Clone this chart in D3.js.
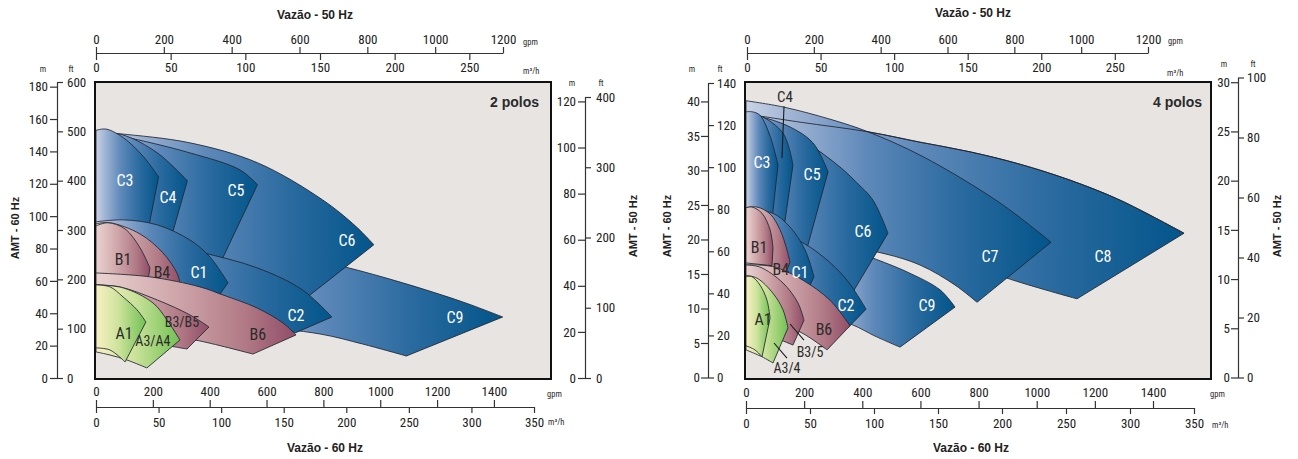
<!DOCTYPE html>
<html>
<head>
<meta charset="utf-8">
<script src="https://cdn.jsdelivr.net/npm/d3@7"></script>
<style>
  body { margin: 0; background: #fff; }
  svg { display: block; }
</style>
</head>
<body>
<svg id="chart" width="1298" height="459"></svg>
<script>
// ---- unit conversions ----
const GPM_PER_M3H = 4.40287;
const FT_PER_M = 3.28084;

// ---- axis tick values ----
const flowTicksM3h60 = [0, 50, 100, 150, 200, 250, 300, 350];
const flowTicksGpm60 = [0, 200, 400, 600, 800, 1000, 1200, 1400];
const flowTicksM3h50 = [0, 50, 100, 150, 200, 250];
const flowTicksGpm50 = [0, 200, 400, 600, 800, 1000, 1200];
const headTicksM60_2p = [0, 20, 40, 60, 80, 100, 120, 140, 160, 180];
const headTicksFt60_2p = [0, 100, 200, 300, 400, 500, 600];
const headTicksM50_2p = [0, 20, 40, 60, 80, 100, 120];
const headTicksFt50_2p = [0, 100, 200, 300, 400];
const headTicksM60_4p = [0, 5, 10, 15, 20, 25, 30, 35, 40];
const headTicksFt60_4p = [0, 20, 40, 60, 80, 100, 120, 140];
const headTicksM50_4p = [0, 5, 10, 15, 20, 25, 30];
const headTicksFt50_4p = [0, 20, 40, 60, 80, 100];

// ---- 2 polos: pump ranges, [flow m3/h @60Hz, head m @60Hz] (drawn in this order) ----
const names2p  = ["C9", "C6", "C5", "C4", "C3", "C2", "C1", "B4", "B1", "B6", "B3/B5", "A3/A4", "A1"];
const family2p = ["C",  "C",  "C",  "C",  "C",  "C",  "C",  "B",  "B",  "B",  "B",     "A",     "A"];
const top2p = [
  [[83, 79.2], [163, 74.8], [199, 68.6], [245, 58.8], [293, 47.0], [325, 37.7]],
  [[0, 152.1], [19, 150.9], [75, 145.3], [129, 133.0], [181, 110.1], [208, 93.4], [222, 82.3]],
  [[0, 151.5], [22, 149.0], [75, 139.1], [115, 128.6], [129, 119.4]],
  [[0, 151.5], [21, 150.3], [49, 139.1], [73, 121.8]],
  [[0, 153.0], [8, 153.8], [22, 148.4], [38, 136.7], [50, 124.3]],
  [[0, 88.4], [43, 85.3], [83, 77.9], [129, 68.0], [165, 54.4], [188.5, 37.7]],
  [[0, 96.5], [22, 97.7], [49, 94.6], [75, 85.3], [91, 74.8], [105.5, 58.8]],
  [[0, 95.3], [11.2, 95.9], [35.2, 89.0], [53.5, 77.3], [64.7, 64.9], [67.1, 58.8]],
  [[0, 94.0], [9.6, 95.9], [23.2, 92.1], [35.2, 80.4], [43.1, 68.0]],
  [[0, 64.9], [43, 62.5], [83, 56.3], [101.5, 51.3], [128.6, 43.3], [149.4, 34.0], [159.8, 26.6]],
  [[0, 57.5], [19, 56.3], [49, 48.2], [75, 39.0], [90.3, 31.5]],
  [[0, 57.5], [21.6, 55.7], [45.5, 46.4], [56.7, 35.9], [67.1, 23.5]],
  [[0, 57.5], [11.2, 56.3], [21.6, 50.1], [32.8, 42.1], [39.9, 34.6]]
];
const bottom2p = [
  [[248, 13.6], [213, 21.0], [179, 27.2], [123, 32.2], [83, 34.6]],
  [[163, 46.4], [83, 63.7], [0, 73.0]],
  [[97.5, 68.0], [43, 85.3], [0, 90.3]],
  [[60, 86.6], [0, 95]],
  [[42, 92.8], [0, 95]],
  [[159, 27.8], [123, 39.0], [43, 48.2], [0, 51.3]],
  [[97.5, 50.1], [43, 57.5], [0, 60.6]],
  [[63.9, 55.7], [0, 62]],
  [[41.5, 60.0], [0, 62]],
  [[125.4, 14.8], [83, 22.9], [43, 28.4], [0, 32.8]],
  [[72.7, 17.9], [43, 21.6], [0, 24.7]],
  [[40.7, 6.2], [24.8, 11.1], [11.2, 14.2], [0, 16.1]],
  [[23.2, 9.9], [11.2, 17.3], [0, 18.6]]
];
const labelPos2p = [
  [286.8, 37.7], [200.5, 85.3], [111.8, 116.3], [57.5, 111.9], [23.2, 122.4], [159.8, 39.0],
  [82.3, 65.6], [52.7, 65.6], [21.6, 73.6], [129.4, 27.2], [68.7, 34.6], [45.5, 22.9], [22.4, 27.8]
];

// ---- 4 polos: pump ranges, [flow m3/h @60Hz, head m @60Hz] ----
const names4p  = ["C8", "C7", "C9", "C6", "C5", "C4", "C3", "C2", "C1", "B4", "B1", "B6", "B3/5", "A3/4", "A1"];
const family4p = ["C",  "C",  "C",  "C",  "C",  "C",  "C",  "C",  "C",  "B",  "B",  "B",  "B",    "A",    "A"];
const top4p = [
  [[0, 38.2], [42.2, 37.0], [95.3, 35.6], [135.9, 34.1], [175, 32.7], [214.1, 30.9], [253.1, 28.6], [292.2, 25.7], [342.2, 20.9]],
  [[0, 40.1], [29, 39.2], [68, 37.3], [95.3, 35.6], [138.3, 32.0], [198.4, 25.3], [238.3, 19.6]],
  [[57.8, 19.2], [89.1, 18.0], [99.2, 17.3], [125.8, 15.3], [151.6, 12.7], [163.3, 10.2]],
  [[0, 38.3], [10.9, 37.8], [47.7, 34.0], [73.4, 30.5], [86.7, 28.2], [99.2, 25.7], [110.9, 20.9]],
  [[0, 38.0], [10.9, 37.8], [34.4, 36.3], [52.3, 34.0], [64.1, 29.8]],
  [[0, 38.0], [10.9, 37.9], [28.9, 35.4], [36.7, 30.8]],
  [[0, 38.5], [5, 38.5], [10.9, 38.0], [18.8, 35.0], [25.0, 30.8]],
  [[0, 21.5], [39.8, 19.9], [60.2, 17.5], [78.9, 14.1], [93.8, 9.9]],
  [[0, 24.6], [5.5, 24.3], [21.1, 23.8], [34.4, 21.8], [46.1, 18.5], [53.1, 14.6]],
  [[0, 24.6], [8.6, 24.7], [18.8, 23.7], [26.6, 21.4], [32.0, 18.5], [34.4, 16.7]],
  [[0, 24.6], [4.7, 24.7], [12.5, 23.8], [18.8, 21.4], [21.1, 18.8]],
  [[0, 16.3], [10.9, 16.3], [24.2, 15.9], [44.5, 14.1], [65.6, 11.2], [81.3, 7.5]],
  [[0, 16.3], [10.9, 16.0], [28.9, 13.7], [40.6, 10.8], [45.3, 8.3]],
  [[0, 14.8], [8.6, 14.4], [21.1, 12.2], [28.9, 9.8], [32.8, 7.2]],
  [[0, 14.6], [4.7, 14.6], [10.9, 13.4], [16.4, 11.2], [18.8, 8.6]]
];
const bottom4p = [
  [[258.6, 11.4], [203.9, 14.4], [159.4, 17.6], [81.3, 19.9], [0, 20.6]],
  [[180.5, 10.9], [163.3, 13.4], [135.9, 16.3], [102.3, 18.2], [42, 20.0], [0, 20.6]],
  [[120.3, 4.4], [100.8, 6.0], [83.6, 7.6], [57.8, 9.1]],
  [[83.6, 12.4], [42.2, 16.7], [0, 18.5]],
  [[46.9, 18.2], [0, 20.0]],
  [[29.7, 21.7], [0, 22.5]],
  [[20.3, 22.8], [0, 23.5]],
  [[79.7, 7.2], [57.8, 9.1], [0, 11.2]],
  [[48.4, 12.7], [26.6, 14.4], [0, 15.3]],
  [[31.3, 15.3], [0, 16.0]],
  [[20.3, 16.2], [0, 16.6]],
  [[63.3, 4.0], [42.2, 6.6], [18.8, 8.0], [0, 8.6]],
  [[36.7, 4.7], [22.7, 5.7], [0, 6.6]],
  [[21.1, 2.1], [12.5, 3.0], [0, 4.0]],
  [[12.5, 3.0], [7.0, 4.0], [0, 4.6]]
];
// null = labelled with a callout instead
const labelPos4p = [
  [278.9, 17.5], [190.6, 17.5], [141.4, 10.4], [91.4, 21.2], [51.6, 29.5], null, [12.5, 31.2],
  [78.1, 10.4], [42.2, 15.3], [27.3, 15.7], [10.2, 18.9], [60.9, 7.0], null, null, [13.3, 8.5]
];
const calloutNames4p = ["C4", "B3/5", "A3/4"];
const calloutText4p = [[30.5, 40.7], [50.0, 3.7], [32.0, 1.4]];
const calloutLine4p = [
  [[29.7, 39.3], [28.1, 31.8]],
  [[34.4, 7.75], [45.3, 5.4]],
  [[21.9, 5.0], [32.0, 2.8]]
];

// ---- fonts & colours ----
const NARROW = '"Liberation Sans Narrow", "Arial Narrow", "Roboto Condensed", "Liberation Sans", sans-serif';
const BOLD = '"Liberation Sans", Arial, Helvetica, sans-serif';
const INK = "#222";
const PLOT_BG = "#e8e4e1";
const gradStops = {
  C: [[0, "#c9d3e6"], [0.15, "#9fb3d3"], [0.4, "#5d88b9"], [0.7, "#2a6a9f"], [1, "#02558a"]],
  B: [[0, "#ead3d0"], [0.4, "#cfa6aa"], [0.75, "#b07985"], [1, "#914d68"]],
  A: [[0, "#f9f0c3"], [0.45, "#cde39c"], [1, "#72c154"]]
};

const svg = d3.select("#chart");
const defs = svg.append("defs");
Object.entries(gradStops).forEach(([k, stops]) => {
  const lg = defs.append("linearGradient").attr("id", "grad" + k)
    .attr("x1", 0).attr("x2", 1).attr("y1", 0).attr("y2", 0);
  stops.forEach(([o, c]) => lg.append("stop").attr("offset", o).attr("stop-color", c));
});

const intFmt = d3.format("d");

function styleAxis(g) {
  g.attr("font-family", NARROW).attr("font-size", 13);
  g.selectAll("text").attr("fill", INK);
  g.selectAll("line").attr("stroke", "#333").attr("stroke-width", 1.2);
  g.selectAll(".domain").attr("stroke", "#333").attr("stroke-width", 1.2);
}

function txt(g, x, y, s, opts) {
  const t = g.append("text").attr("x", x).attr("y", y).text(s)
    .attr("font-family", opts.family || NARROW)
    .attr("font-size", opts.size || 13)
    .attr("fill", opts.fill || INK)
    .attr("text-anchor", opts.anchor || "start");
  if (opts.weight) t.attr("font-weight", opts.weight);
  if (opts.rotate) t.attr("transform", `rotate(-90,${x},${y})`);
  return t;
}

function drawPanel(p) {
  const g = svg.append("g");

  // scales: 60 Hz flow / head drive the marks; 50 Hz scales only carry the secondary axes
  const x = d3.scaleLinear().domain([0, 350]).range(p.xRange);
  const xGpm = x.copy().domain([0, 350 * GPM_PER_M3H]);
  const y = d3.scaleLinear().domain([0, p.ftTop60 / FT_PER_M]).range(p.yRange);
  const yFt = y.copy().domain([0, p.ftTop60]);
  const x50 = d3.scaleLinear().domain([0, 1200 / GPM_PER_M3H]).range(p.topRange);
  const x50Gpm = x50.copy().domain([0, 1200]);
  const y50 = d3.scaleLinear().domain([0, p.ftTop50 / FT_PER_M]).range(p.y50Range);
  const y50Ft = y50.copy().domain([0, p.ftTop50]);

  const [fx0, fy0, fx1, fy1] = p.frame;
  g.append("rect").attr("x", fx0).attr("y", fy0).attr("width", fx1 - fx0).attr("height", fy1 - fy0)
    .attr("fill", PLOT_BG);

  // pump range outlines: top curve down to the tip, chevron, then lower curve back to the left
  const edge = d3.line().x(d => x(d[0])).y(d => y(d[1])).curve(d3.curveCatmullRom.alpha(0.5));
  const shapes = g.append("g");
  p.names.forEach((name, i) => {
    const d = edge(p.top[i]) + "L" + edge(p.bottom[i]).slice(1) + "Z";
    shapes.append("path").attr("d", d)
      .attr("fill", `url(#grad${p.family[i]})`)
      .attr("stroke", "#1f2530").attr("stroke-width", 0.85).attr("stroke-linejoin", "round");
    if (p.restroke && p.restroke.after === name) {
      const j = p.names.indexOf(p.restroke.of);
      shapes.append("path").attr("d", edge(p.top[j]))
        .attr("fill", "none").attr("stroke", "#1f2530").attr("stroke-width", 0.85);
    }
  });

  // frame
  g.append("rect").attr("x", fx0).attr("y", fy0).attr("width", fx1 - fx0).attr("height", fy1 - fy0)
    .attr("fill", "none").attr("stroke", "#111").attr("stroke-width", 2);

  // range labels
  p.names.forEach((name, i) => {
    const pos = p.labelPos[i];
    if (!pos) return;
    txt(g, x(pos[0]), y(pos[1]), p.labelText[i], {
      size: name.includes("/") ? 14 : 16,
      fill: p.family[i] === "C" ? "#fff" : "#2b2b2b", anchor: "middle"
    }).attr("dy", "0.36em");
  });
  if (p.callouts) {
    p.callouts.names.forEach((name, i) => {
      const ln = p.callouts.lines[i];
      g.append("line").attr("x1", x(ln[0][0])).attr("y1", y(ln[0][1]))
        .attr("x2", x(ln[1][0])).attr("y2", y(ln[1][1]))
        .attr("stroke", "#1a1a1a").attr("stroke-width", 1.1);
      const pos = p.callouts.text[i];
      txt(g, x(pos[0]), y(pos[1]), name, { size: name === "C4" ? 15 : 14, fill: "#2b2b2b", anchor: "middle" })
        .attr("dy", "0.36em");
    });
  }

  // polos tag
  txt(g, p.polesPos[0], p.polesPos[1], p.poles, { family: BOLD, size: 14, weight: "bold", anchor: "end", fill: "#2a2a2a" });

  // left head axis (60 Hz): metres to the left, feet to the right of one spine
  const gl = g.append("g").attr("transform", `translate(${p.leftAxisX},0)`);
  gl.append("g").call(d3.axisLeft(y).tickValues(p.mTicks60).tickFormat(intFmt).tickSize(7).tickPadding(p.leftPad[0]).tickSizeOuter(0))
    .call(a => a.select(".domain").remove()).call(styleAxis);
  gl.append("g").call(d3.axisRight(yFt).tickValues(p.ftTicks60).tickFormat(intFmt).tickSize(6).tickPadding(p.leftPad[1]).tickSizeOuter(0))
    .call(styleAxis);

  // right head axis (50 Hz)
  const gr = g.append("g").attr("transform", `translate(${p.rightAxisX},0)`);
  gr.append("g").call(d3.axisLeft(y50).tickValues(p.mTicks50).tickFormat(intFmt).tickSize(7).tickPadding(p.rightPad[0]).tickSizeOuter(0))
    .call(a => a.select(".domain").remove()).call(styleAxis);
  gr.append("g").call(d3.axisRight(y50Ft).tickValues(p.ftTicks50).tickFormat(intFmt).tickSize(6).tickPadding(p.rightPad[1]).tickSizeOuter(0))
    .call(styleAxis);

  // top flow axis (50 Hz)
  const gt = g.append("g").attr("transform", `translate(0,${p.topAxisY})`);
  gt.append("g").call(d3.axisTop(x50Gpm).tickValues(flowTicksGpm50).tickFormat(intFmt).tickSize(6).tickPadding(3).tickSizeOuter(0))
    .call(styleAxis);
  gt.append("g").call(d3.axisBottom(x50).tickValues(flowTicksM3h50).tickFormat(intFmt).tickSize(7).tickPadding(3).tickSizeOuter(0))
    .call(a => a.select(".domain").remove()).call(styleAxis);

  // bottom flow axis (60 Hz)
  const gb = g.append("g").attr("transform", `translate(0,${p.bottomAxisY})`);
  gb.append("g").call(d3.axisBottom(x).tickValues(flowTicksM3h60).tickFormat(intFmt).tickSize(6).tickPadding(5).tickSizeOuter(0))
    .call(styleAxis);
  gb.append("g").call(d3.axisTop(xGpm).tickValues(flowTicksGpm60).tickFormat(intFmt).tickSize(7).tickPadding(4).tickSizeOuter(0))
    .call(a => a.select(".domain").remove()).call(styleAxis);

  // unit captions
  const small = { size: 8.5, fill: "#2a2a2a" };
  txt(g, p.unitTop[0][0], p.unitTop[0][1], "gpm", small);
  txt(g, p.unitTop[1][0], p.unitTop[1][1], "m³/h", small);
  txt(g, p.unitBottom[0][0], p.unitBottom[0][1], "gpm", small);
  txt(g, p.unitBottom[1][0], p.unitBottom[1][1], "m³/h", small);
  txt(g, p.headLeft[0][0], p.headLeft[0][1], "m", { ...small, anchor: "middle" });
  txt(g, p.headLeft[1][0], p.headLeft[1][1], "ft", { ...small, anchor: "middle" });
  txt(g, p.headRight[0][0], p.headRight[0][1], "m", { ...small, anchor: "middle" });
  txt(g, p.headRight[1][0], p.headRight[1][1], "ft", { ...small, anchor: "middle" });

  // axis titles
  const title = { family: BOLD, size: 12, weight: "bold", anchor: "middle", fill: "#222" };
  txt(g, p.titleTop[0], p.titleTop[1], "Vazão - 50 Hz", title);
  txt(g, p.titleBottom[0], p.titleBottom[1], "Vazão - 60 Hz", title);
  txt(g, p.amtLeft[0], p.amtLeft[1], "AMT - 60 Hz", { ...title, size: 11, rotate: true });
  txt(g, p.amtRight[0], p.amtRight[1], "AMT - 50 Hz", { ...title, size: 11, rotate: true });
}

drawPanel({
  names: names2p, family: family2p, top: top2p, bottom: bottom2p,
  labelPos: labelPos2p, labelText: names2p,
  frame: [95, 82, 551, 379],
  xRange: [96, 534], yRange: [378, 82], ftTop60: 600,
  mTicks60: headTicksM60_2p, ftTicks60: headTicksFt60_2p,
  topRange: [96, 503], y50Range: [378, 97], ftTop50: 400,
  mTicks50: headTicksM50_2p, ftTicks50: headTicksFt50_2p,
  leftAxisX: 57, rightAxisX: 585, leftPad: [2, 4], rightPad: [2, 5],
  topAxisY: 53, bottomAxisY: 407,
  poles: "2 polos", polesPos: [539, 107],
  unitTop: [[523, 45], [523, 74]], unitBottom: [[547, 397], [548, 425]],
  headLeft: [[43, 72], [71, 72]], headRight: [[572, 86], [601, 86]],
  titleTop: [315, 19], titleBottom: [325, 452],
  amtLeft: [19, 228], amtRight: [637, 226]
});

drawPanel({
  names: names4p, family: family4p, top: top4p, bottom: bottom4p,
  labelPos: labelPos4p, labelText: names4p,
  restroke: { after: "C7", of: "C8" },
  callouts: { names: calloutNames4p, text: calloutText4p, lines: calloutLine4p },
  frame: [745, 82, 1211, 379],
  xRange: [746, 1194], yRange: [377.5, 83], ftTop60: 140,
  mTicks60: headTicksM60_4p, ftTicks60: headTicksFt60_4p,
  topRange: [747, 1148], y50Range: [377.5, 77.5], ftTop50: 100,
  mTicks50: headTicksM50_4p, ftTicks50: headTicksFt50_4p,
  leftAxisX: 708, rightAxisX: 1238, leftPad: [1, 3], rightPad: [1, 3],
  topAxisY: 53, bottomAxisY: 408,
  poles: "4 polos", polesPos: [1202, 107],
  unitTop: [[1168, 44], [1167, 76]], unitBottom: [[1210, 397], [1212, 428]],
  headLeft: [[692, 72], [720, 72]], headRight: [[1224, 67], [1253, 67]],
  titleTop: [973, 17], titleBottom: [971, 452],
  amtLeft: [671, 226], amtRight: [1281, 226]
});
</script>
</body>
</html>
